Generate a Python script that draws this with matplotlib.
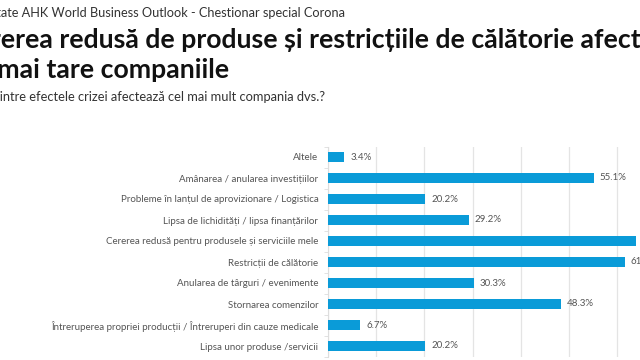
import numpy as np
import matplotlib
matplotlib.use("Agg")
import matplotlib.pyplot as plt

categorii = [
    "Altele",
    "Amânarea / anularea investițiilor",
    "Probleme în lanțul de aprovizionare / Logistica",
    "Lipsa de lichidități / lipsa finanțărilor",
    "Cererea redusă pentru produsele și serviciile mele",
    "Restricții de călătorie",
    "Anularea de târguri / evenimente",
    "Stornarea comenzilor",
    "Întreruperea propriei producții / Întreruperi din cauze medicale",
    "Lipsa unor produse /servicii",
]
procente = [3.4, 55.1, 20.2, 29.2, 63.9, 61.6, 30.3, 48.3, 6.7, 20.2]

plt.rcParams["font.family"] = ["Lato", "DejaVu Sans"]

W, H = 640, 360
fig = plt.figure(figsize=(6.4, 3.6), dpi=100)
renderer = fig.canvas.get_renderer()

# plot area: left edge at x=328 px, 10% = 48.2 px, rows span y 146..357
ax = fig.add_axes([328 / W, 1 - 356.5 / H, 70 * 4.82 / W, 210 / H])
y = np.arange(len(categorii))
ax.barh(y, procente, height=0.43, color="#0a9bd8", zorder=3)
for yi, v in zip(y, procente):
    ax.text(v + 1.2, yi, f"{v:.1f}%", va="center", ha="left",
            fontsize=7.0, color="#555555", zorder=4)

ax.set_xlim(0, 70)
ax.set_ylim(len(categorii) - 0.5, -0.5)
ax.set_yticks(y)
ax.set_yticklabels(categorii, fontsize=7.0, color="#555555")
ax.set_yticks(np.arange(len(categorii) + 1) - 0.5, minor=True)
ax.tick_params(axis="y", which="major", length=0, pad=7)
ax.tick_params(axis="y", which="minor", length=3, color="#dddddd")
ax.set_xticks(np.arange(0, 71, 10))
ax.tick_params(axis="x", length=0, labelbottom=False)
ax.grid(axis="x", color="#e4e4e4", lw=0.9, zorder=0)
for s in ["top", "right", "bottom"]:
    ax.spines[s].set_visible(False)
ax.spines["left"].set_color("#dddddd")
ax.spines["left"].set_linewidth(0.8)


def cut_text(hidden, shown, x_px, base_px, **kw):
    # the source picture is cropped on the left: draw the whole string
    # so that only the visible part lands inside the figure
    probe = fig.text(0, 0, hidden, **kw)
    w = probe.get_window_extent(renderer).width
    probe.remove()
    fig.text((x_px - w) / W, 1 - base_px / H, hidden + shown,
             va="baseline", ha="left", **kw)


cut_text("Rezult", "ate AHK World Business Outlook - Chestionar special Corona",
         1, 17, fontsize=9.2, color="#333333")
cut_text("Cer", "erea redusă de produse și restricțiile de călătorie afectează",
         1, 48, fontsize=19.2, fontweight="bold", color="#111111")
cut_text("cel", " mai tare companiile",
         -9, 78, fontsize=19.2, fontweight="bold", color="#111111")
cut_text("Care di", "ntre efectele crizei afectează cel mai mult compania dvs.?",
         3, 101, fontsize=9.3, color="#333333")

fig.savefig("out.png", dpi=100)
